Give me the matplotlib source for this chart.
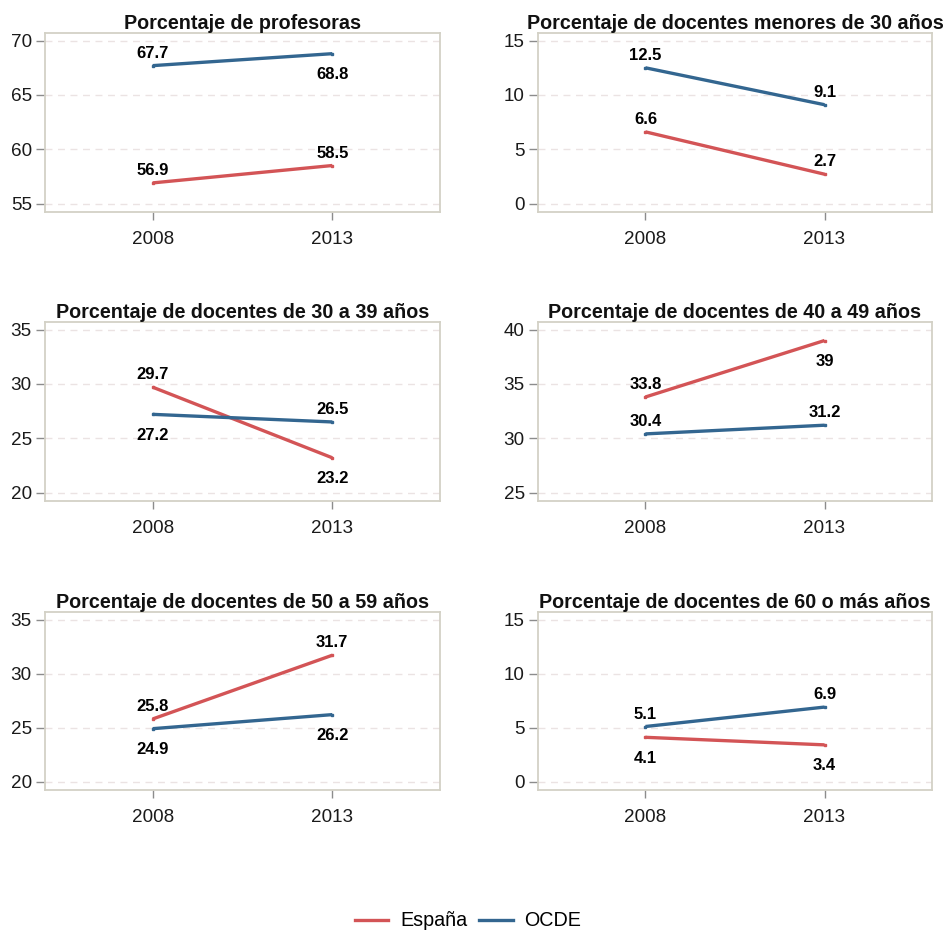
import matplotlib
matplotlib.use("Agg")
import matplotlib.pyplot as plt
from matplotlib.lines import Line2D

plt.rcParams['font.family'] = ['Liberation Sans', 'DejaVu Sans']

years = [2008, 2013]
titles = [
    "Porcentaje de profesoras",
    "Porcentaje de docentes menores de 30 años",
    "Porcentaje de docentes de 30 a 39 años",
    "Porcentaje de docentes de 40 a 49 años",
    "Porcentaje de docentes de 50 a 59 años",
    "Porcentaje de docentes de 60 o más años",
]
espana = [
    [56.9, 58.5],
    [6.6, 2.7],
    [29.7, 23.2],
    [33.8, 39.0],
    [25.8, 31.7],
    [4.1, 3.4],
]
ocde = [
    [67.7, 68.8],
    [12.5, 9.1],
    [27.2, 26.5],
    [30.4, 31.2],
    [24.9, 26.2],
    [5.1, 6.9],
]
espana_labels = [
    ["56.9", "58.5"], ["6.6", "2.7"], ["29.7", "23.2"],
    ["33.8", "39"], ["25.8", "31.7"], ["4.1", "3.4"],
]
ocde_labels = [
    ["67.7", "68.8"], ["12.5", "9.1"], ["27.2", "26.5"],
    ["30.4", "31.2"], ["24.9", "26.2"], ["5.1", "6.9"],
]
# label placement: 1 = above, -1 = below
espana_pos = [[1, 1], [1, 1], [1, -1], [1, -1], [1, 1], [-1, -1]]
ocde_pos = [[1, -1], [1, 1], [-1, 1], [1, 1], [-1, -1], [1, 1]]
yticks = [
    [55, 60, 65, 70],
    [0, 5, 10, 15],
    [20, 25, 30, 35],
    [25, 30, 35, 40],
    [20, 25, 30, 35],
    [0, 5, 10, 15],
]

RED = "#d35456"
BLUE = "#336690"
SPINE = "#d3d1c6"
GRID = "#ebe3e3"

fig = plt.figure(figsize=(9.5, 9.32), dpi=100)
W, H = 950, 932
boxes = [
    (45, 33, 440, 212), (538, 33, 932, 212),
    (45, 322, 440, 501), (538, 322, 932, 501),
    (45, 612, 440, 790), (538, 612, 932, 790),
]

for i in range(6):
    x0, y0, x1, y1 = boxes[i]
    ax = fig.add_axes([x0 / W, 1 - y1 / H, (x1 - x0) / W, (y1 - y0) / H])
    ax.plot(years, espana[i], color=RED, lw=2.4, marker='s', ms=2, solid_capstyle='butt', zorder=3)
    ax.plot(years, ocde[i], color=BLUE, lw=2.4, marker='s', ms=2, solid_capstyle='butt', zorder=3)
    for vals, labs, poss in ((espana[i], espana_labels[i], espana_pos[i]),
                             (ocde[i], ocde_labels[i], ocde_pos[i])):
        for x, v, l, p in zip(years, vals, labs, poss):
            if p > 0:
                ax.annotate(l, (x, v), xytext=(0, 3.5), textcoords='offset points',
                            ha='center', va='bottom', fontsize=12, fontweight='bold', color='black')
            else:
                ax.annotate(l, (x, v), xytext=(0, -9.5), textcoords='offset points',
                            ha='center', va='top', fontsize=12, fontweight='bold', color='black')
    yt = yticks[i]
    span = yt[-1] - yt[0]
    ax.set_ylim(yt[0] - 0.052 * span, yt[-1] + 0.047 * span)
    ax.set_yticks(yt)
    ax.set_xlim(2005, 2016)
    ax.set_xticks(years)
    ax.set_xticklabels([str(y) for y in years])
    ax.yaxis.grid(True, color=GRID, ls=(0, (5, 4)), lw=1.0)
    ax.set_axisbelow(True)
    for s in ax.spines.values():
        s.set_color(SPINE)
        s.set_linewidth(1.3)
    ax.tick_params(axis='y', length=6.5, width=1, color='#8c8c8c', pad=3, labelsize=13.6, labelcolor='#1a1a1a')
    ax.tick_params(axis='x', length=5.5, width=1, color='#8c8c8c', pad=8, labelsize=13.6, labelcolor='#1a1a1a')
    ax.set_title(titles[i], fontsize=14.2, fontweight='bold', pad=3, color='#111111')

handles = [Line2D([0], [0], color=RED, lw=2.4), Line2D([0], [0], color=BLUE, lw=2.4)]
fig.legend(handles, ["España", "OCDE"], loc='center', bbox_to_anchor=(468 / W, 1 - 921 / H),
           ncol=2, frameon=False, fontsize=14.2, handlelength=1.7, handletextpad=0.6,
           columnspacing=0.6)

fig.savefig("out.png", dpi=100, facecolor='white')
